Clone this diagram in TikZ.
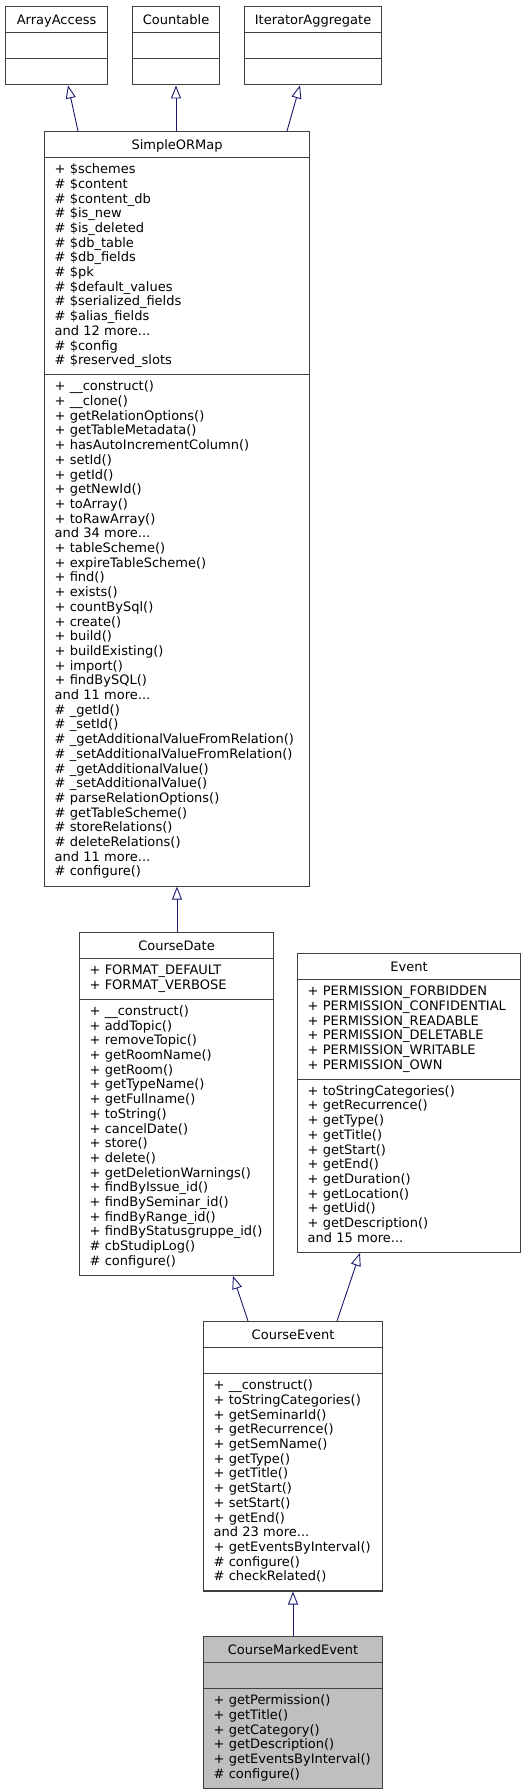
\documentclass[tikz,border=0pt]{standalone}
\usepackage{fontspec}
\setmainfont{DejaVu Sans}
\usetikzlibrary{shapes.multipart,arrows.meta}
\definecolor{edgeblue}{HTML}{191970}
\definecolor{boxgray}{HTML}{404040}
\colorlet{hilite}{black!25}
\tikzset{
  classbox/.style={rectangle split, rectangle split parts=3, draw=boxgray, line width=1.1pt,
    fill=white, font=\fontsize{13}{14.7}\selectfont, inner xsep=10pt, inner ysep=5.15pt,
    align=left, anchor=north west, text width=#1},
  inherit/.style={draw=edgeblue, line width=0.9pt, -{Triangle[open,length=13pt,width=10pt]}}
}
\newcommand{\titlestrut}{\rule[-2.85pt]{0pt}{14.7pt}}
\newcommand{\cname}[1]{\titlestrut\hfill #1\hfill\titlestrut}

\begin{document}
\begin{tikzpicture}[x=1pt,y=-1pt]
\useasboundingbox (0,0) rectangle (525,1792);
\node[classbox=82pt] (arrayaccess) at (5,6) {\cname{ArrayAccess}\nodepart{second}\strut\nodepart{third}\strut};
\node[classbox=67pt] (countable) at (132,6) {\cname{Countable}\nodepart{second}\strut\nodepart{third}\strut};
\node[classbox=117pt] (itagg) at (244,6) {\cname{IteratorAggregate}\nodepart{second}\strut\nodepart{third}\strut};
\node[classbox=245pt] (smap) at (44,131) {\cname{SimpleORMap}
  \nodepart{second}\strut + \$schemes\\ \# \$content\\ \# \$content\_db\\ \# \$is\_new\\ \# \$is\_deleted\\
  \# \$db\_table\\ \# \$db\_fields\\ \# \$pk\\ \# \$default\_values\\ \# \$serialized\_fields\\
  \# \$alias\_fields\\ and 12 more...\\ \# \$config\\ \# \$reserved\_slots\strut
  \nodepart{third}\strut + \_\_construct()\\ + \_\_clone()\\ + getRelationOptions()\\ + getTableMetadata()\\
  + hasAutoIncrementColumn()\\ + setId()\\ + getId()\\ + getNewId()\\ + toArray()\\ + toRawArray()\\
  and 34 more...\\ + tableScheme()\\ + expireTableScheme()\\ + find()\\ + exists()\\ + countBySql()\\
  + create()\\ + build()\\ + buildExisting()\\ + import()\\ + findBySQL()\\ and 11 more...\\
  \# \_getId()\\ \# \_setId()\\ \# \_getAdditionalValueFromRelation()\\ \# \_setAdditionalValueFromRelation()\\
  \# \_getAdditionalValue()\\ \# \_setAdditionalValue()\\ \# parseRelationOptions()\\ \# getTableScheme()\\
  \# storeRelations()\\ \# deleteRelations()\\ and 11 more...\\ \# configure()\strut};
\node[classbox=174pt] (cdate) at (79,932) {\cname{CourseDate}
  \nodepart{second}\strut + FORMAT\_DEFAULT\\ + FORMAT\_VERBOSE\strut
  \nodepart{third}\strut + \_\_construct()\\ + addTopic()\\ + removeTopic()\\ + getRoomName()\\ + getRoom()\\
  + getTypeName()\\ + getFullname()\\ + toString()\\ + cancelDate()\\ + store()\\ + delete()\\
  + getDeletionWarnings()\\ + findByIssue\_id()\\ + findBySeminar\_id()\\ + findByRange\_id()\\
  + findByStatusgruppe\_id()\\ \# cbStudipLog()\\ \# configure()\strut};
\node[classbox=203pt] (event) at (297,953) {\cname{Event}
  \nodepart{second}\strut + PERMISSION\_FORBIDDEN\\ + PERMISSION\_CONFIDENTIAL\\ + PERMISSION\_READABLE\\
  + PERMISSION\_DELETABLE\\ + PERMISSION\_WRITABLE\\ + PERMISSION\_OWN\strut
  \nodepart{third}\strut + toStringCategories()\\ + getRecurrence()\\ + getType()\\ + getTitle()\\ + getStart()\\
  + getEnd()\\ + getDuration()\\ + getLocation()\\ + getUid()\\ + getDescription()\\ and 15 more...\strut};
\node[classbox=159pt] (cevent) at (203,1321) {\cname{CourseEvent}
  \nodepart{second}\strut
  \nodepart{third}\strut + \_\_construct()\\ + toStringCategories()\\ + getSeminarId()\\ + getRecurrence()\\
  + getSemName()\\ + getType()\\ + getTitle()\\ + getStart()\\ + setStart()\\ + getEnd()\\ and 23 more...\\
  + getEventsByInterval()\\ \# configure()\\ \# checkRelated()\strut};
\node[classbox=159pt, fill=hilite] (cmevent) at (203,1636) {\cname{CourseMarkedEvent}
  \nodepart{second}\strut
  \nodepart{third}\strut + getPermission()\\ + getTitle()\\ + getCategory()\\ + getDescription()\\
  + getEventsByInterval()\\ \# configure()\strut};
\draw[inherit] ([xshift=34pt]smap.north west) -- ([xshift=63pt]arrayaccess.south west);
\draw[inherit] ([xshift=132pt]smap.north west) -- ([xshift=44pt]countable.south west);
\draw[inherit] ([xshift=243pt]smap.north west) -- ([xshift=56pt]itagg.south west);
\draw[inherit] ([xshift=98pt]cdate.north west) -- ([xshift=133pt]smap.south west);
\draw[inherit] ([xshift=45pt]cevent.north west) -- ([xshift=154pt]cdate.south west);
\draw[inherit] ([xshift=134pt]cevent.north west) -- ([xshift=63pt]event.south west);
\draw[inherit] ([xshift=90pt]cmevent.north west) -- ([xshift=90pt]cevent.south west);
\end{tikzpicture}
\end{document}
